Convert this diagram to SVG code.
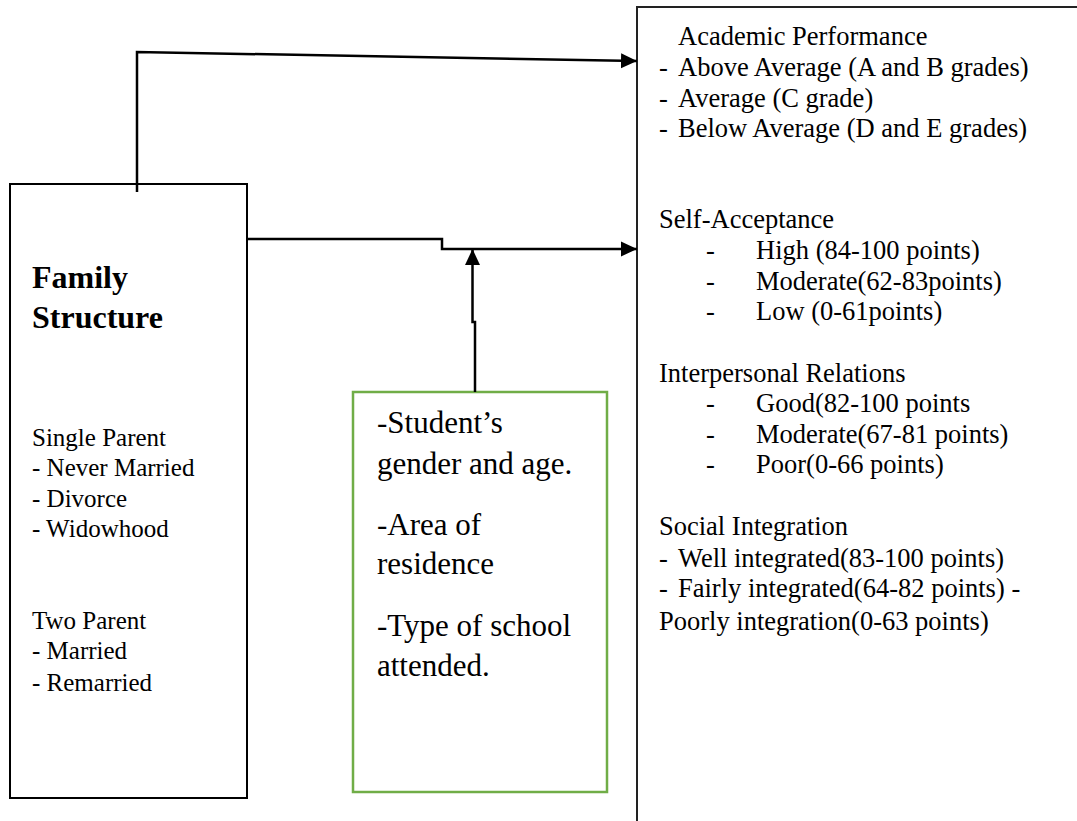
<svg xmlns="http://www.w3.org/2000/svg" width="1077" height="821" viewBox="0 0 1077 821">
  <style>
    text { font-family: "Liberation Serif", "Times New Roman", serif; fill: #000; }
    .t { font-size: 25px; }
    .r { font-size: 26.5px; }
    .g { font-size: 31px; }
    .b { font-size: 32px; font-weight: bold; }
    .box { fill: none; stroke: #000; stroke-width: 2; }
    .conn { fill: none; stroke: #000; stroke-width: 2.5; }
  </style>
  <defs>
    <marker id="arr" markerUnits="userSpaceOnUse" markerWidth="16" markerHeight="16" refX="16" refY="8" orient="auto">
      <path d="M0,0.5 L16,8 L0,15.5 z" fill="#000"/>
    </marker>
  </defs>
  <rect width="1077" height="821" fill="#fff"/>

  <g id="family-structure">
    <rect class="box" x="10" y="184" width="237" height="614"/>
    <text class="b" x="32" y="288">Family</text>
    <text class="b" x="32" y="328">Structure</text>
    <text class="t" x="32" y="446">Single Parent</text>
    <text class="t" x="32" y="476">- Never Married</text>
    <text class="t" x="32" y="507">- Divorce</text>
    <text class="t" x="32" y="537">- Widowhood</text>
    <text class="t" x="32" y="629">Two Parent</text>
    <text class="t" x="32" y="659">- Married</text>
    <text class="t" x="32" y="691">- Remarried</text>
  </g>

  <g id="moderators">
    <rect x="353" y="392" width="254" height="400" fill="none" stroke="#70AD47" stroke-width="2.5"/>
    <text class="g" x="377" y="433">-Student’s</text>
    <text class="g" x="377" y="474">gender and age.</text>
    <text class="g" x="377" y="535">-Area of</text>
    <text class="g" x="377" y="574">residence</text>
    <text class="g" x="377" y="636">-Type of school</text>
    <text class="g" x="377" y="676">attended.</text>
  </g>

  <g id="outcomes">
    <path d="M637,821 V7 H1077" fill="none" stroke="#222" stroke-width="2"/>
    <text class="r" x="678" y="45">Academic Performance</text>
    <text class="r" x="659" y="76">-</text><text class="r" x="678" y="76">Above Average (A and B grades)</text>
    <text class="r" x="659" y="107">-</text><text class="r" x="678" y="107">Average (C grade)</text>
    <text class="r" x="659" y="137">-</text><text class="r" x="678" y="137">Below Average (D and E grades)</text>

    <text class="r" x="659" y="228">Self-Acceptance</text>
    <text class="r" x="706" y="259">-</text><text class="r" x="756" y="259">High (84-100 points)</text>
    <text class="r" x="706" y="290">-</text><text class="r" x="756" y="290">Moderate(62-83points)</text>
    <text class="r" x="706" y="320">-</text><text class="r" x="756" y="320">Low (0-61points)</text>

    <text class="r" x="659" y="382">Interpersonal Relations</text>
    <text class="r" x="706" y="412">-</text><text class="r" x="756" y="412">Good(82-100 points</text>
    <text class="r" x="706" y="443">-</text><text class="r" x="756" y="443">Moderate(67-81 points)</text>
    <text class="r" x="706" y="473">-</text><text class="r" x="756" y="473">Poor(0-66 points)</text>

    <text class="r" x="659" y="535">Social Integration</text>
    <text class="r" x="659" y="567">-</text><text class="r" x="678" y="567">Well integrated(83-100 points)</text>
    <text class="r" x="659" y="597">-</text><text class="r" x="678" y="597">Fairly integrated(64-82 points) -</text>
    <text class="r" x="659" y="630">Poorly integration(0-63 points)</text>
  </g>

  <g id="connectors">
    <path class="conn" d="M137,192 V52 L637,61" marker-end="url(#arr)"/>
    <path class="conn" d="M247,239 H442 V249 H637" marker-end="url(#arr)"/>
    <path class="conn" d="M475,392 V322 H472.5 V249" marker-end="url(#arr)"/>
  </g>
</svg>
